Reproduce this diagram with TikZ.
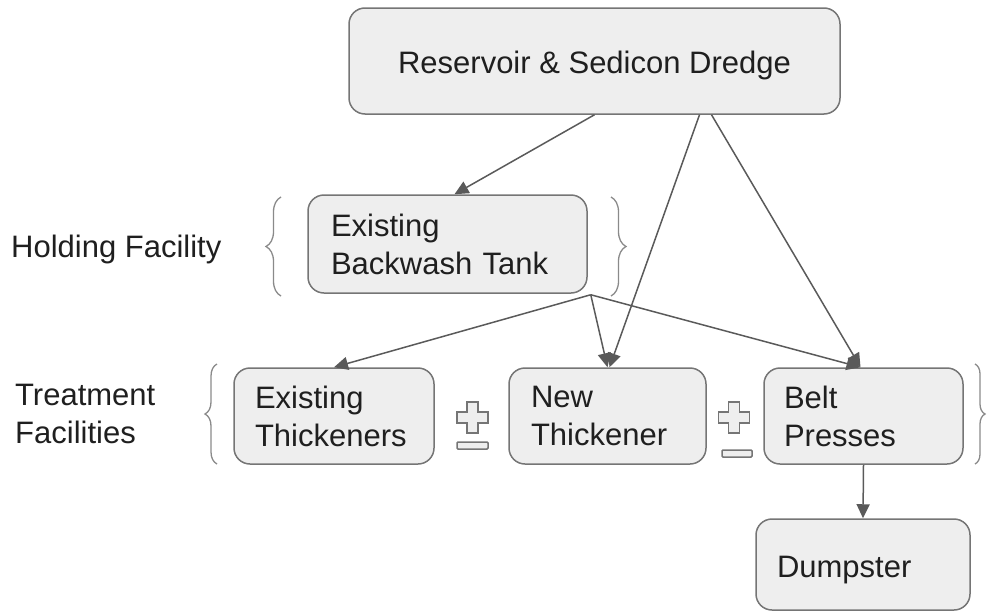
\documentclass[tikz,border=0pt]{standalone}
\usepackage{fontspec}
\setmainfont{Liberation Sans}
\usetikzlibrary{arrows.meta,decorations.pathreplacing,calc}
\definecolor{boxfill}{HTML}{EEEEEE}
\definecolor{boxline}{HTML}{757575}
\definecolor{arr}{HTML}{5A5A5A}
\definecolor{txt}{HTML}{1F1F1F}
\definecolor{bracecol}{HTML}{8A8A8A}
\begin{document}
\begin{tikzpicture}[x=1pt,y=-1pt, font=\fontsize{31}{38}\selectfont, text=txt,
 box/.style={draw=boxline, line width=1.5pt, fill=boxfill, rounded corners=16pt, inner xsep=0pt, inner ysep=0pt, align=left},
 oneline/.style={text height=29pt, text depth=4pt},
 conn/.style={draw=arr, line width=1.5pt, -{Triangle[length=14pt,width=13pt]}},
 bracestyle/.style={draw=bracecol, line width=1.3pt, decorate, decoration={brace, amplitude=#1}},
 pm/.style={draw=boxline, line width=1.5pt, fill=boxfill},
 plusshape/.pic={\draw[pm] (-5.5,-15.5) -- (5.5,-15.5) -- (5.5,-5.5) -- (15.5,-5.5) -- (15.5,5.5) -- (5.5,5.5) -- (5.5,15.5) -- (-5.5,15.5) -- (-5.5,5.5) -- (-15.5,5.5) -- (-15.5,-5.5) -- (-5.5,-5.5) -- cycle;}]
\useasboundingbox (0,0) rectangle (987,613);

\node[box, oneline, minimum width=491pt, minimum height=106pt, align=center] (res) at (594.5,61) {Reservoir \& Sedicon Dredge};
\node[box, minimum width=279pt, minimum height=98pt, text width=233pt] (bw) at (447.5,244) {Existing\\Backwash Tank};
\node[box, minimum width=200pt, minimum height=96pt, text width=158pt] (et) at (334,416) {Existing\\Thickeners};
\node[box, minimum width=197pt, minimum height=96pt, text width=153pt] (nt) at (607.5,416) {New\\Thickener};
\node[box, minimum width=199pt, minimum height=96pt, text width=159pt] (bp) at (863.5,416) {Belt\\Presses};
\node[box, oneline, minimum width=214pt, minimum height=91pt, text width=172pt] (dump) at (863,564.5) {Dumpster};

\node[anchor=west, inner sep=0pt] (hold) at (11,249) {Holding Facility};
\node[anchor=west, inner sep=0pt, align=left] (treat) at (15,414) {Treatment\\Facilities};

\draw[bracestyle=15pt] (281,296) -- (281,197);
\draw[bracestyle=15pt] (611,197) -- (611,296);
\draw[bracestyle=12pt] (217,464) -- (217,364);
\draw[bracestyle=10pt] (975,364) -- (975,464);

\pic at (472.5,417.5) {plusshape};
\draw[pm, rounded corners=1pt] (457,442) rectangle (488,449);
\pic at (734,417.5) {plusshape};
\draw[pm, rounded corners=1pt] (722,450) rectangle (752,457);

\draw[conn] (res.south) -- ([xshift=7pt]bw.north);
\draw[conn] ([xshift=105pt]res.south) -- ([xshift=2pt]nt.north);
\draw[conn] ([xshift=117pt]res.south) -- ([xshift=-3pt]bp.north);
\coordinate (bwo) at ([shift={(3,1)}]bw.south east);
\draw[conn] (bwo) -- (et.north);
\draw[conn] (bwo) -- (nt.north);
\draw[conn] (bwo) -- ([xshift=-3pt]bp.north);
\draw[conn] (bp.south) -- (dump.north);
\end{tikzpicture}
\end{document}
